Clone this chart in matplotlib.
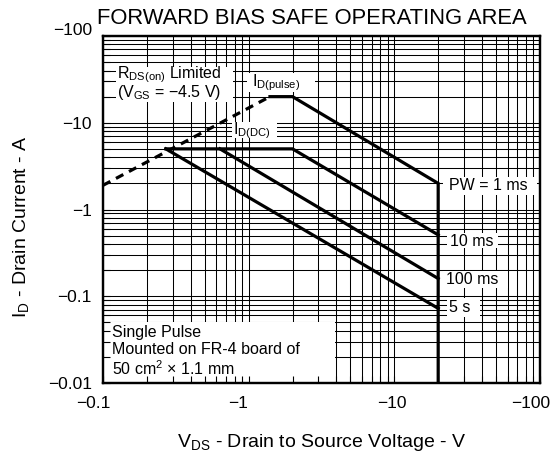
import matplotlib
matplotlib.use("Agg")
import matplotlib.pyplot as plt
import matplotlib.transforms as mtransforms
from matplotlib.patches import Rectangle
from matplotlib.ticker import FixedLocator, LogLocator, NullFormatter

plt.rcParams['font.family'] = ['Liberation Sans', 'DejaVu Sans']
plt.rcParams['mathtext.fontset'] = 'custom'
plt.rcParams['mathtext.rm'] = 'Liberation Sans'

# --- data (magnitudes; axes show negative values) ---
rds_v = [0.1, 1.4]
rds_i = [1.9, 20]

pulse_v = [1.4, 2.0, 20, 20]
pulse_i = [20, 20, 2.0, 0.01]

dc_v = [0.27, 2.0, 20]
dc_i = [5.0, 5.0, 0.51]

ms100_v = [0.635, 20]
ms100_i = [5.0, 0.16]

s5_v = [0.27, 20]
s5_i = [5.0, 0.0725]

x_ticks = [0.1, 1, 10, 100]
x_ticklabels = ['\u22120.1', '\u22121', '\u221210', '\u2212100']
y_ticks = [0.01, 0.1, 1, 10, 100]
y_ticklabels = ['\u22120.01', '\u22120.1', '\u22121', '\u221210', '\u2212100']

W, H = 553, 457
fig = plt.figure(figsize=(W / 100, H / 100), dpi=100)
L, R, T, B = 103, 540, 36, 383
pos = [L / W, 1 - B / H, (R - L) / W, (B - T) / H]
ax = fig.add_axes(pos)


def px(x, y):
    # pixel -> axes fraction
    return (x - L) / (R - L), (B - y) / (B - T)


ax.set_xscale('log')
ax.set_yscale('log')
ax.set_xlim(0.1, 100)
ax.set_ylim(0.01, 100)
ax.set_axisbelow(True)
ax.grid(True, which='both', color='black', linewidth=0.75)
ax.xaxis.set_minor_locator(LogLocator(base=10, subs=range(2, 10)))
ax.yaxis.set_minor_locator(LogLocator(base=10, subs=range(2, 10)))
ax.xaxis.set_minor_formatter(NullFormatter())
ax.yaxis.set_minor_formatter(NullFormatter())
ax.xaxis.set_major_locator(FixedLocator(x_ticks))
ax.yaxis.set_major_locator(FixedLocator(y_ticks))
ax.set_xticklabels(x_ticklabels)
ax.set_yticklabels(y_ticklabels)
ax.tick_params(which='both', direction='in', length=0, labelsize=12.5)
ax.tick_params(axis='x', pad=9)
ax.tick_params(axis='y', pad=8)
for s in ax.spines.values():
    s.set_linewidth(1.6)

# shift some tick labels like the reference
x_shift = [-10, -11, -2, -9]
for lab, dx in zip(ax.get_xticklabels(), x_shift):
    lab.set_transform(lab.get_transform() + mtransforms.ScaledTranslation(dx / 100, 0, fig.dpi_scale_trans))
ylabs = ax.get_yticklabels()
ylabs[-1].set_transform(ylabs[-1].get_transform() + mtransforms.ScaledTranslation(0, 7 / 100, fig.dpi_scale_trans))

# overlay axes for inward ticks drawn above white label boxes
ax2 = fig.add_axes(pos, zorder=5)
ax2.set_xscale('log')
ax2.set_yscale('log')
ax2.set_xlim(0.1, 100)
ax2.set_ylim(0.01, 100)
ax2.patch.set_visible(False)
ax2.xaxis.set_minor_locator(LogLocator(base=10, subs=range(2, 10)))
ax2.yaxis.set_minor_locator(LogLocator(base=10, subs=range(2, 10)))
ax2.xaxis.set_major_locator(FixedLocator(x_ticks))
ax2.yaxis.set_major_locator(FixedLocator(y_ticks))
ax2.tick_params(which='both', direction='in', length=5, width=0.8,
                labelbottom=False, labelleft=False)
for s in ax2.spines.values():
    s.set_linewidth(1.6)

# curves
lw = 2.3
ax.plot(rds_v, rds_i, color='black', lw=lw, dashes=(2.6, 2.0), zorder=4)
ax.plot(pulse_v, pulse_i, color='black', lw=lw, zorder=4, solid_joinstyle='miter')
ax.plot(dc_v, dc_i, color='black', lw=lw, zorder=4, solid_joinstyle='miter')
ax.plot(ms100_v, ms100_i, color='black', lw=lw, zorder=4)
ax.plot(s5_v, s5_i, color='black', lw=lw, zorder=4)

# white label boxes (pixel extents from reference)
boxes = [
    (116, 67, 233, 102),
    (247, 73, 315, 92),
    (232, 122, 277, 138),
    (443, 177, 537, 195),
    (447, 233, 498, 248),
    (443, 271, 508, 288),
    (447, 298, 480, 317),
    (103, 322, 335, 383),
]
for x0, y0, x1, y1 in boxes:
    ax0, ay0 = px(x0, y1)
    ax1, ay1 = px(x1, y0)
    ax.add_patch(Rectangle((ax0, ay0), ax1 - ax0, ay1 - ay0, transform=ax.transAxes,
                           facecolor='white', edgecolor='none', zorder=2))

fs = 11.5
def label(x, y, s, size=fs):
    ax.text(*px(x, y), s, transform=ax.transAxes, fontsize=size,
            ha='left', va='center', zorder=3)

label(117, 75, r'$\mathregular{R_{DS(on)}}$ Limited')
label(117, 93, r'($\mathregular{V_{GS}}$ = $-$4.5 V)')
label(252, 83, r'$\mathregular{I_{D(pulse)}}$')
label(233, 131, r'$\mathregular{I_{D(DC)}}$')
label(449, 186, 'PW = 1 ms')
label(450, 241, '10 ms')
label(446, 279, '100 ms')
label(449, 308, '5 s')
label(112, 332, 'Single Pulse')
label(112, 350, 'Mounted on FR-4 board of')
label(112, 369, '50 cm$\\mathregular{^2}$ \u00d7 1.1 mm')

fig.text(312 / W, 1 - 19 / H, 'FORWARD BIAS SAFE OPERATING AREA', fontsize=15.8,
         ha='center', va='center')
ax.set_xlabel(r'$\mathregular{V_{DS}}$ - Drain to Source Voltage - V', fontsize=14)
ax.set_ylabel(r'$\mathregular{I_{D}}$ - Drain Current - A', fontsize=14)
ax.xaxis.set_label_coords(0.5, -0.14)
ax.yaxis.set_label_coords(-0.165, 0.45)

fig.savefig('out.png', dpi=100)
